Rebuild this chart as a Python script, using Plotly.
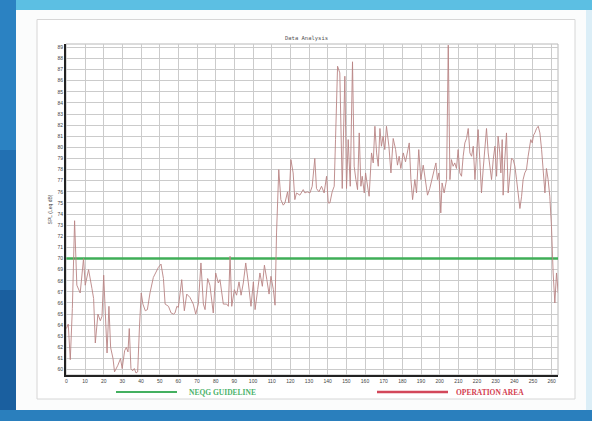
import plotly.graph_objects as go

# ---- data ----
sample_x = [
    0, 1, 2.1, 3.2, 4.4, 5.6, 7.4, 9.2, 10.1, 11.9, 13.7, 14.6, 15.5, 16.9, 18.2, 19.1, 20.0, 20.9,
    21.8, 22.8, 23.7, 25.0, 25.8, 27.6, 29.0, 29.9, 31.2, 32.1, 33.0, 33.7, 34.6, 35.5, 36.4, 37.3,
    38.2, 39.2, 40.1, 41.0, 42.3, 43.4, 44.8, 46.6, 49.3, 50.7, 52.0, 52.9, 54.7, 56.1, 57.4,
    58.2, 59.2, 60.0, 61.8, 63.2, 64.5, 66.2, 68.0, 69.3, 70.7, 72.1, 73.4, 74.3, 75.7, 76.9, 78.7,
    80.0, 81.4, 82.3, 84.1, 85.9, 86.8, 87.7, 88.6, 90.0, 91.2, 92.5, 93.6, 94.8, 96.1, 97.5, 98.9,
    100.2, 101.1, 102.5, 103.7, 105.0, 106.1, 107.4, 108.6, 109.6, 110.9, 111.8,
    112.6, 113.8, 114.9, 116.2, 117.1, 118.5, 119.2, 120.3, 121.5, 122.4, 123.3, 125.1, 126.9, 127.8,
    129.0, 130.5, 131.7, 133.1, 134.0, 135.3, 136.7, 138.1, 139.4, 140.3, 141.2, 142.4, 143.5, 144.2,
    145.3, 146.5, 147.8, 149.2, 150.1, 151.0, 152.1, 153.3, 154.2, 155.1, 156.0, 156.9, 157.8, 158.5,
    159.6, 160.3, 161.3, 162.2, 163.5, 164.4, 165.3, 166.2, 167.1, 168.0, 168.8, 169.7, 170.6, 171.5,
    172.8, 173.9, 175.1, 176.4, 177.4, 178.3, 179.2, 180.5, 181.7, 182.8, 183.7, 184.6, 185.5, 186.7,
    187.6, 188.8, 189.9, 191.2, 192.1, 193.5, 194.7, 196.0, 197.1, 198.0, 198.8, 199.6, 200.6, 201.3,
    202.4, 203.7, 204.6, 205.5, 206.3, 207.2, 208.1, 209.0, 209.9, 210.8, 211.7, 212.6, 213.5, 214.4,
    215.3, 216.2, 217.1, 218.0, 218.9, 219.7, 220.6, 221.5, 222.4, 223.3, 224.2, 225.1, 226.0, 226.9,
    227.8, 228.7, 229.6, 230.5, 231.3, 232.2, 232.8, 233.5, 234.0, 234.9, 235.8, 236.7, 237.6, 238.5,
    239.4, 240.3, 241.2, 242.1, 243.0, 243.9, 244.7, 245.6, 246.5, 247.4, 248.3, 248.8, 249.6, 250.3,
    251.0, 251.9, 252.8, 253.7, 254.6, 255.5, 256.4, 257.2, 258.1, 259.0, 259.9, 260.8, 261.7, 262.6,
    263.5,
]
spl_leq_db = [
    63.7, 64.1, 60.9, 65.5, 73.4, 67.6, 66.9, 70.0, 67.6, 69.0, 67.3, 66.4, 62.4, 65.0, 64.4, 64.8, 68.5, 64.4,
    61.5, 65.7, 62.0, 61.0, 59.8, 60.4, 61.0, 60.1, 61.7, 62.0, 61.6, 63.7, 60.1, 59.9, 60.1, 59.7,
    59.8, 64.0, 66.9, 65.9, 65.3, 65.4, 66.9, 68.3, 69.2, 69.5, 68.2, 65.9, 65.7, 65.1, 65.0,
    65.1, 65.7, 65.6, 68.1, 65.3, 66.8, 66.5, 65.9, 65.0, 65.9, 69.6, 65.9, 65.4, 68.2, 67.6, 65.1,
    68.7, 67.8, 68.1, 65.9, 65.9, 65.7, 70.2, 65.7, 67.2, 66.7, 67.9, 66.7, 67.8, 69.6, 67.8, 65.7,
    67.9, 65.4, 67.2, 68.7, 67.5, 69.4, 68.1, 66.8, 68.4, 67.2, 65.8,
    72.3, 78.0, 75.3, 74.8, 75.0, 76.0, 75.0, 78.9, 77.7, 75.3, 75.9, 75.7, 76.2, 75.9,
    76.0, 75.9, 76.5, 79.0, 76.3, 76.0, 76.5, 75.9, 77.4, 75.0, 75.0, 76.0, 76.5, 80.7,
    87.3, 86.7, 76.3, 86.4, 76.3, 80.7, 76.5, 87.7, 78.3, 77.1, 76.2, 81.3, 76.5, 77.4,
    75.9, 77.7, 76.5, 75.6, 79.5, 78.6, 81.9, 79.5, 78.3, 81.7, 80.1, 81.0, 79.8, 81.9,
    80.1, 77.7, 80.8, 79.8, 78.4, 79.2, 78.1, 79.5, 78.7, 79.8, 80.4, 77.1, 75.3, 77.1,
    75.9, 79.8, 77.1, 78.4, 77.4, 75.7, 76.3, 77.1, 78.0, 78.6, 77.1, 77.7, 74.1, 76.8,
    75.9, 77.1, 89.2, 77.1, 78.9, 78.3, 78.6, 78.1, 79.8, 77.7, 77.4, 79.2, 80.4, 80.8,
    81.7, 79.5, 79.2, 80.1, 77.1, 79.2, 81.6, 78.9, 75.9, 78.0, 79.8, 81.7, 79.5, 78.3,
    77.1, 78.9, 80.1, 77.4, 81.0, 79.5, 77.7, 80.7, 75.7, 78.9, 81.3, 75.9, 77.7, 79.0,
    78.9, 78.3, 77.1, 75.6, 74.5, 75.6, 77.1, 77.7, 78.0, 79.2, 80.1, 80.7, 80.4, 81.1,
    81.3, 81.7, 81.9, 81.3, 79.8, 78.0, 75.9, 78.1, 77.1, 75.6, 72.9, 68.7, 66.0, 68.7,
    66.9,
]
guideline_level = 70
guideline_span = [0, 263.4]
x_ticks = list(range(0, 261, 10))
y_ticks = list(range(60, 90))

# ---- figure geometry (pixels) ----
W, H = 592, 421
L, R, T, B = 66, 34, 44, 46
PW, PH = W - L - R, H - T - B


def fx(px):
    return (px - L) / PW


def fy(py):
    return 1 - (py - T) / PH


def band(x0, x1, y0, y1, color):
    return dict(type="rect", xref="paper", yref="paper", x0=fx(x0), x1=fx(x1),
                y0=fy(y1), y1=fy(y0), fillcolor=color, line_width=0, layer="below")


fig = go.Figure()

fig.add_trace(go.Scatter(
    x=guideline_span, y=[guideline_level, guideline_level], mode="lines",
    line=dict(color="#3fae57", width=2.5), hoverinfo="skip", showlegend=False,
))
fig.add_trace(go.Scatter(
    x=sample_x, y=spl_leq_db, mode="lines",
    line=dict(color="#b98383", width=0.9), showlegend=False,
))

shapes = [
    band(0, W, 0, 10, "#5cbfe3"),
    band(586, W, 10, 410, "#dbeef7"),
    band(0, 16, 0, 150, "#2b82c2"),
    band(0, 16, 150, 290, "#2270b2"),
    band(0, 16, 290, H, "#1a5f9f"),
    band(0, W, 410, H, "#2a7fbd"),
    # card
    dict(type="rect", xref="paper", yref="paper", x0=fx(37), x1=fx(575), y0=fy(399), y1=fy(19.5),
         fillcolor="#ffffff", line=dict(color="#d6d6d6", width=1), layer="below"),
    # plot border (top/right)
    dict(type="rect", xref="paper", yref="paper", x0=0, x1=1, y0=0, y1=1,
         fillcolor="rgba(0,0,0,0)", line=dict(color="#b8b8b8", width=1), layer="below"),
    # legend lines
    dict(type="line", xref="paper", yref="paper", x0=fx(116), x1=fx(177), y0=fy(392), y1=fy(392),
         line=dict(color="#44b060", width=2)),
    dict(type="line", xref="paper", yref="paper", x0=fx(377), x1=fx(448), y0=fy(392), y1=fy(392),
         line=dict(color="#d3475a", width=2.5)),
]

annotations = [
    dict(text="Data Analysis", xref="paper", yref="paper", x=fx(306), y=fy(38.5),
         showarrow=False, font=dict(family="DejaVu Sans Mono", size=5.5, color="#555555"),
         xanchor="center", yanchor="middle"),
    dict(text="<b>NEQG GUIDELINE</b>", xref="paper", yref="paper", x=fx(222), y=fy(392.5),
         showarrow=False, font=dict(family="Liberation Serif", size=7.5, color="#4bb36a"),
         xanchor="center", yanchor="middle"),
    dict(text="<b>OPERATION AREA</b>", xref="paper", yref="paper", x=fx(490), y=fy(392.5),
         showarrow=False, font=dict(family="Liberation Serif", size=7.5, color="#d3404f"),
         xanchor="center", yanchor="middle"),
]

fig.update_layout(
    width=W, height=H,
    margin=dict(l=L, r=R, t=T, b=B, pad=0),
    paper_bgcolor="#fbfcfc",
    plot_bgcolor="rgba(0,0,0,0)",
    shapes=shapes,
    annotations=annotations,
    showlegend=False,
)
fig.update_xaxes(
    range=[-0.2, 263.4], tickmode="array", tickvals=x_ticks, ticktext=[str(t) for t in x_ticks],
    showgrid=True, gridcolor="#cbcbcb", gridwidth=1, zeroline=False,
    showline=True, linecolor="#222222", linewidth=2,
    ticks="", tickfont=dict(family="Arial", size=5, color="#444444"),
)
fig.update_yaxes(
    range=[59.52, 89.3], tickmode="array", tickvals=y_ticks, ticktext=[str(t) for t in y_ticks],
    showgrid=True, gridcolor="#cbcbcb", gridwidth=1, zeroline=False,
    showline=True, linecolor="#222222", linewidth=2,
    ticks="", tickfont=dict(family="Arial", size=5, color="#444444"),
    title=dict(text="SPL (Leq dB)", font=dict(family="Arial", size=5, color="#444444"), standoff=5),
)

fig.write_html(
    "out.html",
    config={"displayModeBar": False},
    post_script="document.body.style.margin='0px'; document.body.style.overflow='hidden';",
)
